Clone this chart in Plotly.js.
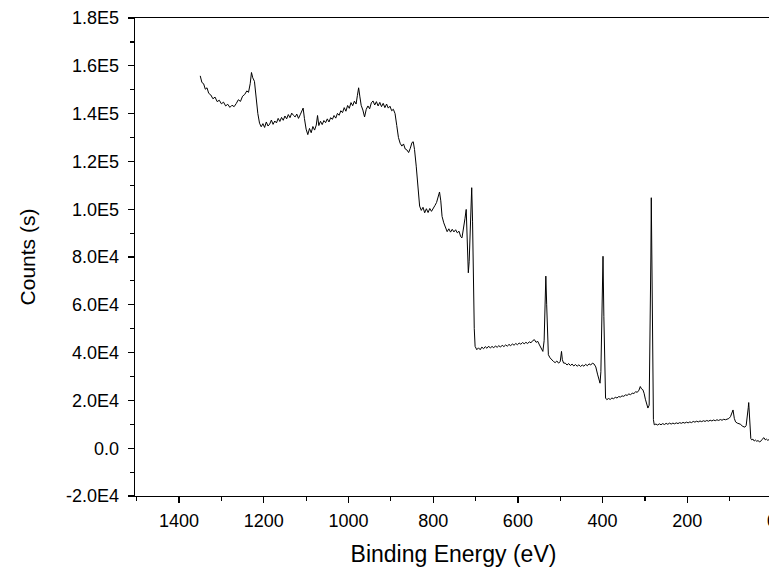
<!DOCTYPE html>
<html>
<head>
<meta charset="utf-8">
<script src="https://cdn.plot.ly/plotly-3.0.1.min.js"></script>
<style>
html,body{margin:0;padding:0;overflow:hidden;background:#fff;}
#chart{width:800px;height:574px;}
</style>
</head>
<body>
<div id="chart"></div>
<script>
// Binding energy (eV)
var energy = [
1350,1346,1342,1338,1334,1330,1325,1320,1315,1310,1305,1300,1295,1290,1285,1280,1275,1270,1265,1260,1255,1250,1245,1240,1236,1232,1229,1226,1222,1218,1214,1210,1206,
1202,1198,1194,1190,1186,1182,1178,1174,1170,1166,1162,1158,1154,1150,1146,1142,1138,1134,1130,1126,1122,1118,1114,1110,1107,1104,1100,1096,1092,1088,1084,1080,1076,1073,1070,1066,1062,1058,1054,1050,1046,1042,1038,1034,1030,1026,1022,1018,1014,1010,1006,1002,998,994,990,986,982,979,976,973,970,966,962,958,954,950,946,942,938,934,930,926,922,918,914,910,906,902,898,894,890,886,882,878,874,870,866,862,858,854,850,847,844,840,836,832,828,824,820,816,812,808,804,800,796,792,788,785,782,779,775,771,767,763,759,755,751,747,743,739,735,732,729,725,722,720,718,717,715,713,711,709,707,705,703,701,
697,693,689,685,681,677,673,669,665,661,657,653,649,645,641,637,633,629,625,621,617,613,609,605,601,597,593,589,585,581,577,573,569,565,561,557,553,549,545,541,538,536,534,532,530,528,524,520,516,512,508,504,500,497,495,492,488,484,480,476,472,468,464,460,456,452,448,444,440,436,432,428,424,420,416,412,408,406,404,401,399,397,395,393,390,
386,382,378,374,370,366,362,358,354,350,346,342,338,334,330,326,322,318,314,311,308,305,302,299,296,293,290,288,286,285,284,282,280,278,
274,270,266,262,258,254,250,246,242,238,234,230,226,222,218,214,210,206,202,198,194,190,186,182,178,174,170,166,162,158,154,150,146,142,138,134,130,126,122,118,114,110,106,102,98,95,92,89,86,82,78,74,70,67,64,61,58,56,55,54,52,50,48,45,42,39,36,33,30,27,24,21,19,16,13,10,7,4
];
// Counts (s)
var counts = [
155800,153000,152500,150200,150800,148500,147800,146200,146900,145000,145600,144100,144800,143200,143900,142600,143500,142900,144200,145800,145100,147300,148000,149500,148900,152500,157200,155000,153500,146000,140000,136000,134500,
135800,134200,136500,134800,135600,137300,135500,136900,136100,138000,136700,138400,137200,139000,137800,139600,138300,140200,139300,138600,139800,138000,139500,141500,142300,138000,133500,131200,133800,132000,134600,133100,135200,139200,135000,136800,135400,137100,136200,137800,136500,138300,137600,139200,138100,140100,139300,141200,140400,142500,141000,143400,142200,144600,143300,145200,144000,147500,150800,147000,143500,141500,138600,141800,143200,142000,144500,145300,143600,145000,143200,144700,142900,144300,142500,144000,142300,143100,141200,141800,140000,135000,130000,127600,126400,127300,125200,124800,123700,125500,127900,128200,125000,118000,108000,101300,99500,100800,98500,100200,98600,100300,99100,100100,101500,102800,104800,107200,103500,97000,94300,92200,90600,91800,90400,91600,90500,91400,90100,90800,88500,88000,91000,96000,99900,90000,78000,73400,78000,92000,104000,109000,95000,70000,50000,42600,
41200,42000,41200,42300,41600,42500,41800,42700,41900,42600,42000,42800,42200,42900,42300,43100,42500,43200,42700,43400,42900,43600,43100,43800,43300,44000,43500,44200,43700,44300,43800,44500,44100,45000,45400,44300,44700,43200,41500,40500,45000,60000,72000,60000,45000,39100,37800,36900,36300,35800,36500,35600,36200,40500,37000,35600,35600,34800,35400,34600,35200,34400,35000,34300,34900,34200,34800,34300,35100,34500,35300,34800,35600,35200,34000,31000,27500,27200,32000,60000,80300,55000,30000,21000,20300,
20800,20400,21000,20700,21300,21000,21600,21400,21900,21700,22300,22100,22700,22400,23000,22900,23600,23400,24300,25800,24800,24500,23000,20500,18000,16800,18000,40000,80000,104800,80000,35000,12000,9800,
10100,9700,10200,9800,10300,9900,10400,10000,10500,10100,10500,10200,10600,10300,10700,10400,10800,10500,10900,10600,11000,10700,11200,10900,11300,11000,11400,11100,11500,11200,11600,11300,11700,11400,11800,11500,11900,11600,12000,11700,12100,11900,12200,12400,13200,14500,16000,12500,11000,10500,10200,10000,9200,9000,8800,9500,13000,17000,19100,16000,8000,4000,3500,3800,3000,3400,2900,3200,2700,2800,3600,4200,4400,3500,3800,3300,3600,3200
];
var yTickVals = [-20000,0,20000,40000,60000,80000,100000,120000,140000,160000,180000];
var yTickText = ["-2.0E4","0.0","2.0E4","4.0E4","6.0E4","8.0E4","1.0E5","1.2E5","1.4E5","1.6E5","1.8E5"];
var xTickVals = [1400,1200,1000,800,600,400,200,0];

var font = "'Liberation Sans', Arial, sans-serif";
var trace = {
  x: energy, y: counts, type: 'scatter', mode: 'lines',
  line: {color: '#000', width: 1}, hoverinfo: 'skip'
};
var layout = {
  width: 800, height: 574,
  margin: {l: 135, r: 28, t: 18, b: 78},
  paper_bgcolor: '#fff', plot_bgcolor: '#fff',
  showlegend: false,
  font: {family: font, color: '#000', size: 18},
  xaxis: {
    range: [1504, 0], showgrid: false, zeroline: false,
    showline: true, linecolor: '#000', linewidth: 1.3, mirror: true,
    ticks: 'outside', ticklen: 6, tickwidth: 1.3, tickcolor: '#000',
    tickvals: xTickVals, tickfont: {size: 18, family: font}, ticklabelstandoff: 2,
    minor: {dtick: 100, tick0: 0, ticks: 'outside', ticklen: 4, tickwidth: 1.2, tickcolor: '#000'},
    title: {text: 'Binding Energy (eV)', font: {size: 23, family: font}, standoff: 16}
  },
  yaxis: {
    range: [-20000, 180000], showgrid: false, zeroline: false,
    showline: true, linecolor: '#000', linewidth: 1.3, mirror: true,
    ticks: 'outside', ticklen: 6, tickwidth: 1.3, tickcolor: '#000',
    tickvals: yTickVals, ticktext: yTickText, tickfont: {size: 18, family: font}, ticklabelstandoff: 5,
    minor: {dtick: 10000, tick0: 0, ticks: 'outside', ticklen: 4, tickwidth: 1.2, tickcolor: '#000'},
    title: {text: 'Counts (s)', font: {size: 21, family: font}, standoff: 24}
  }
};
Plotly.newPlot('chart', [trace], layout, {staticPlot: true, displayModeBar: false});
</script>
</body>
</html>
